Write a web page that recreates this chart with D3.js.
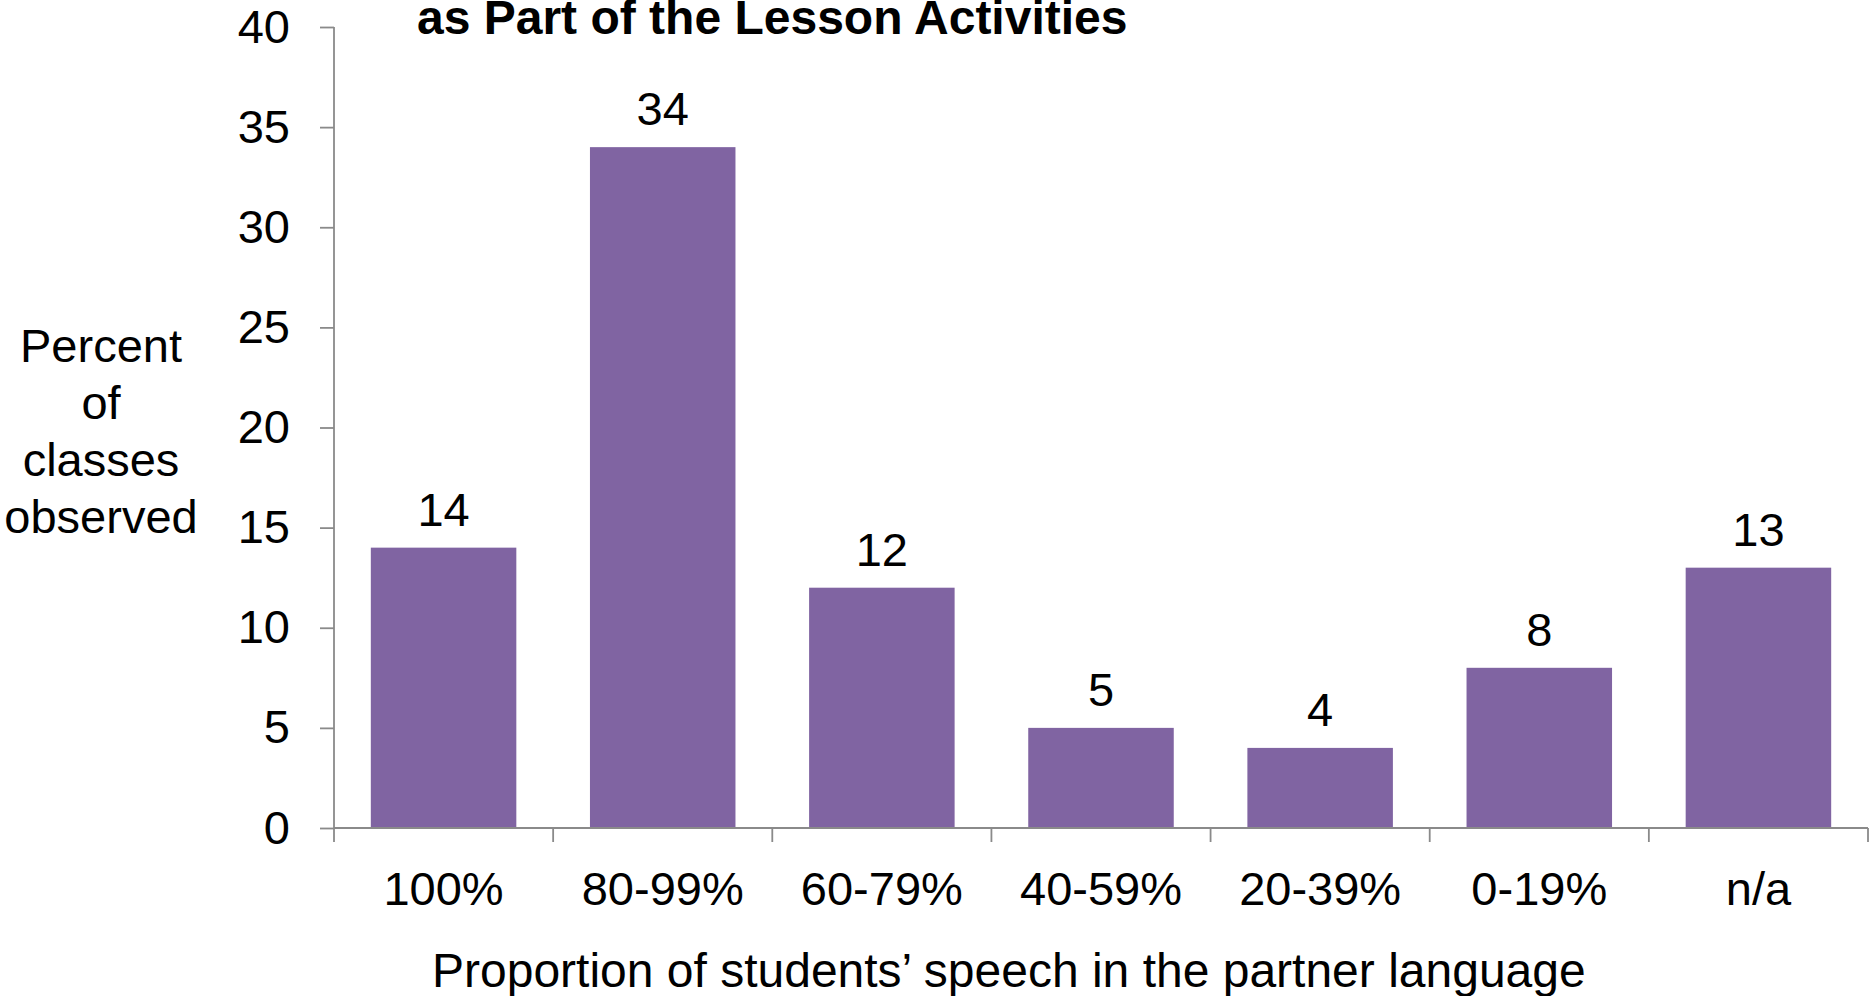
<!DOCTYPE html>
<html>
<head>
<meta charset="utf-8">
<script src="https://cdn.jsdelivr.net/npm/d3@7/dist/d3.min.js"></script>
<style>
  html, body { margin: 0; padding: 0; background: #fff; }
  svg { display: block; }
  text { font-family: "Liberation Sans", Arial, sans-serif; fill: #000; }
</style>
</head>
<body>
<svg id="chart" width="1874" height="996"></svg>
<script>
// Share of classes by proportion of student speech in the partner language
const categories = ["100%", "80-99%", "60-79%", "40-59%", "20-39%", "0-19%", "n/a"];
const values = [14, 34, 12, 5, 4, 8, 13];
const yTicks = [0, 5, 10, 15, 20, 25, 30, 35, 40];
const titleLine = "as Part of the Lesson Activities";
const yTitleLines = ["Percent", "of", "classes", "observed"];
const xTitle = "Proportion of students\u2019 speech in the partner language";

(function () {
  const svg = d3.select("#chart");
  const plotLeft = 334, plotRight = 1868, plotTop = 27, plotBottom = 828;
  const axisColor = "#8a8a8a";
  const fs = 47;

  const x = d3.scaleBand().domain(categories).range([plotLeft, plotRight])
    .paddingInner(0.336).paddingOuter(0.168);
  const y = d3.scaleLinear().domain([0, 40]).range([plotBottom, plotTop]);

  // bars
  svg.append("g").selectAll("rect").data(values).join("rect")
    .attr("x", (d, i) => x(categories[i]))
    .attr("y", d => y(d))
    .attr("width", x.bandwidth())
    .attr("height", d => y(0) - y(d))
    .attr("fill", "#8064A2");

  // value labels
  svg.append("g").selectAll("text").data(values).join("text")
    .attr("x", (d, i) => x(categories[i]) + x.bandwidth() / 2)
    .attr("y", d => y(d) - 22)
    .attr("text-anchor", "middle")
    .attr("font-size", fs)
    .text(d => d);

  // y axis
  const yAxis = d3.axisLeft(y).tickValues(yTicks).tickSize(14).tickPadding(30);
  const gy = svg.append("g").attr("transform", `translate(${plotLeft},0)`).call(yAxis);
  gy.select(".domain").attr("stroke", axisColor).attr("stroke-width", 1.8)
    .attr("d", `M0,${y(40)}V${y(0)}`);
  gy.selectAll(".tick line").attr("stroke", axisColor).attr("stroke-width", 1.8);
  gy.selectAll(".tick text").attr("font-size", fs)
    .attr("font-family", "Liberation Sans, Arial, sans-serif").attr("fill", "#000");

  // x axis: ticks on band boundaries
  const gx = svg.append("g").attr("transform", `translate(0,${plotBottom})`);
  gx.append("line").attr("x1", plotLeft).attr("x2", plotRight).attr("y1", 0).attr("y2", 0)
    .attr("stroke", axisColor).attr("stroke-width", 1.8);
  const boundaries = categories.map(c => x(c) - x.step() * x.paddingInner() / 2)
    .concat([plotRight]);
  boundaries[0] = plotLeft;
  gx.selectAll("line.tk").data(boundaries).join("line").attr("class", "tk")
    .attr("x1", d => d).attr("x2", d => d).attr("y1", 0).attr("y2", 14)
    .attr("stroke", axisColor).attr("stroke-width", 1.8);
  gx.selectAll("text").data(categories).join("text")
    .attr("x", d => x(d) + x.bandwidth() / 2)
    .attr("y", 77)
    .attr("text-anchor", "middle")
    .attr("font-size", fs)
    .text(d => d);

  // axis titles
  svg.append("text").attr("x", 432).attr("y", 987)
    .attr("text-anchor", "start").attr("font-size", 48).text(xTitle);

  svg.append("g").selectAll("text").data(yTitleLines).join("text")
    .attr("x", 101).attr("y", (d, i) => 362 + i * 57)
    .attr("text-anchor", "middle").attr("font-size", fs).text(d => d);

  // chart title (second line visible)
  svg.append("text").attr("x", 417).attr("y", 34)
    .attr("text-anchor", "start").attr("font-size", 48).attr("font-weight", "bold")
    .text(titleLine);
})();
</script>
</body>
</html>
